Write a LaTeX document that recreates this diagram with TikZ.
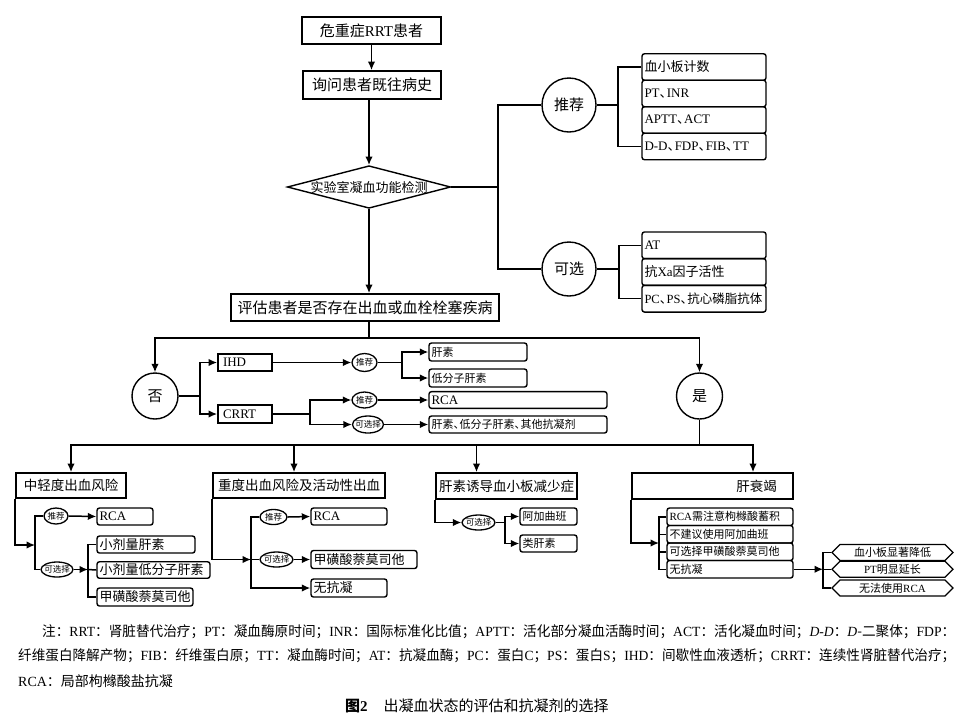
\documentclass[tikz,border=0pt]{standalone}
\usepackage{fontspec}
\usepackage{graphicx}
\newfontfamily\cjk{Noto Sans CJK SC}
\newfontfamily\latn{Liberation Serif}
\usetikzlibrary{arrows.meta,shapes.geometric,shapes.symbols}
\newcommand\dun{\makebox[.55em][l]{、}}
\newcommand\zw[1]{\makebox[0pt]{#1}}
\tikzset{
  f15/.style={font=\cjk\fontsize{15pt}{18pt}\selectfont},
  f135/.style={font=\cjk\fontsize{13.5pt}{16pt}\selectfont},
  f13/.style={font=\cjk\fontsize{13pt}{15pt}\selectfont},
  f11/.style={font=\cjk\fontsize{11pt}{13pt}\selectfont},
  f14/.style={font=\cjk\fontsize{14pt}{16pt}\selectfont},
  f8/.style={font=\cjk\fontsize{8.5pt}{9pt}\selectfont},
  line/.style={line width=1.5pt,draw=black},
  arr/.style={line,-{Latex[length=8.5pt,width=7.5pt]}},
  mb/.style 2 args={draw,line width=1.8pt,inner sep=0pt,align=center,minimum width=#1,minimum height=#2},
  sq/.style 2 args={draw,line width=1.8pt,inner xsep=5pt,inner ysep=0pt,align=left,text width=#1,minimum height=#2},
  lb/.style 2 args={draw,line width=1.4pt,rounded corners=2.5pt,inner xsep=2.5pt,inner ysep=0pt,align=left,text width=#1,minimum height=#2},
  circ/.style={draw,circle,line width=1.4pt,inner sep=0pt},
  sell/.style 2 args={draw,ellipse,line width=1.3pt,inner sep=0pt,minimum width=#1,minimum height=#2,f8},
  hexa/.style={draw,signal,signal to=east and west,line width=1.3pt,inner sep=0pt,minimum width=121,minimum height=16,f11}
}
\begin{document}
\begin{tikzpicture}[x=1pt,y=-1pt,font=\cjk]
\useasboundingbox[fill=white] (0,0) rectangle (960,716);

% ---- top chain
\node[mb={139}{27},f15] (n1) at (371.5,30.5) {危重症{\latn RRT}患者};
\node[mb={138}{28},f15] (n2) at (372,85) {询问患者既往病史};
\node[draw,diamond,aspect=3.84,line width=1.4pt,inner sep=0pt,f13] (dia) at (369,187) {实验室凝血功能检测};

% ---- recommended / optional tests
\node[circ,minimum size=54,f15] (tj) at (569,105) {推荐};
\node[circ,minimum size=54,f15] (kx) at (569,269) {可选};
\node[lb={119}{26.5},f13] (r1) at (704,67) {血小板计数};
\node[lb={119}{26.5},f13] (r2) at (704,93.5) {{\latn PT}\dun{\latn INR}};
\node[lb={119}{26.5},f13] (r3) at (704,120) {{\latn APTT}\dun{\latn ACT}};
\node[lb={119}{26.5},f13] (r4) at (704,146.5) {{\latn D-D}\dun{\latn FDP}\dun{\latn FIB}\dun{\latn TT}};
\node[lb={119}{26.7},f13] (k1) at (704,245.3) {{\latn AT}};
\node[lb={119}{26.7},f13] (k2) at (704,272) {抗{\latn Xa}因子活性};
\node[lb={119}{26.7},font=\cjk\fontsize{12.5pt}{15pt}\selectfont] (k3) at (704,298.7) {{\latn PC}\dun{\latn PS}\dun 抗心磷脂抗体};

% ---- assessment
\node[mb={268}{27},f15] (n3) at (365,307.5) {评估患者是否存在出血或血栓栓塞疾病};
\node[circ,minimum size=46,f15] (fou) at (155,396) {否};
\node[circ,minimum size=46,f15] (shi) at (699.5,396) {是};

% ---- no branch
\node[sq={44}{17},f13] (ihd) at (245,362.5) {{\latn IHD}};
\node[sq={44}{18},f13] (crrt) at (245,414) {{\latn CRRT}};
\node[sell={25}{18}] (tj1) at (364.5,362.5) {\zw{推荐}};
\node[sell={25}{16}] (tj2) at (364.5,400) {\zw{推荐}};
\node[sell={31}{17}] (kx2) at (368,424.5) {\zw{可选择}};
\node[lb={93}{18},f11] (gs1) at (478,352) {肝素};
\node[lb={93}{18},f11] (dfz) at (478,378) {低分子肝素};
\node[lb={173}{16.7},f13] (rca1) at (518,400) {{\latn RCA}};
\node[lb={173}{17},f11] (gsq) at (518,424.5) {肝素\dun 低分子肝素\dun 其他抗凝剂};

% ---- yes branch: four situations
\node[mb={110}{25},f135] (b1) at (71,485.5) {中轻度出血风险};
\node[mb={172}{25},f135] (b2) at (299,485.5) {重度出血风险及活动性出血};
\node[mb={141}{26},f135] (b3) at (506.5,486) {肝素诱导血小板减少症};
\node[mb={161}{26},f135] (b4) at (712.5,486) {\hspace*{88pt}肝衰竭};

% b1 subtree
\node[sell={24}{16}] (tj3) at (56,516) {\zw{推荐}};
\node[sell={32}{15}] (kx3) at (57,569.5) {\zw{可选择}};
\node[lb={51}{17},f13] (rca3) at (125,516.5) {{\latn RCA}};
\node[lb={93}{17},f13] (d1) at (146,544.5) {小剂量肝素};
\node[lb={108}{16.5},f13] (d2) at (153.5,570) {小剂量低分子肝素};
\node[lb={91}{18},f13] (d3) at (145,597) {甲磺酸萘莫司他};

% b2 subtree
\node[sell={27}{15}] (tj4) at (273.5,517) {\zw{推荐}};
\node[sell={33}{15}] (kx4) at (276.5,559.5) {\zw{可选择}};
\node[lb={71}{17},f13] (rca4) at (349,516.5) {{\latn RCA}};
\node[lb={101}{18},f13] (jh4) at (364,559.5) {甲磺酸萘莫司他};
\node[lb={71}{18},f13] (wk4) at (349,588) {无抗凝};

% b3 subtree
\node[sell={33}{15}] (kx5) at (478.5,522.5) {\zw{可选择}};
\node[lb={52}{17},f11] (agb) at (548.5,516.5) {阿加曲班};
\node[lb={52}{17},f11] (lgs) at (548.5,543.5) {类肝素};

% b4 subtree
\node[lb={121}{17.5},f11] (g1) at (730,516.75) {{\latn RCA}需注意枸橼酸蓄积};
\node[lb={121}{17.5},f11] (g2) at (730,534.25) {不建议使用阿加曲班};
\node[lb={121}{17.5},f11] (g3) at (730,551.75) {可选择甲磺酸萘莫司他};
\node[lb={121}{17.5},f11] (g4) at (730,569.25) {无抗凝};
\node[hexa] (h1) at (892.5,552.5) {血小板显著降低};
\node[hexa] (h2) at (892.5,569.25) {{\latn PT}明显延长};
\node[hexa] (h3) at (892.5,588) {无法使用{\latn RCA}};

% ---- connectors: top
\draw[arr] (n1.south) -- (n1.south |- n2.north);
\draw[arr] (dia.north |- n2.south) -- (dia.north);
\coordinate (jr) at (498,187);
\draw[line] (dia.east) -- (jr);
\draw[line] (tj.west) -| (jr) |- (kx.west);
\coordinate (bt) at (618,105);
\draw[line] (tj.east) -- (bt);
\draw[line] (r1.west) -| (bt) |- (r4.west);
\coordinate (bk) at (619,269);
\draw[line] (kx.east) -- (bk);
\draw[line] (k1.west) -| (bk) |- (k3.west);

\draw[arr] (dia.south) -- (dia.south |- n3.north);
\coordinate (j2) at (369,338);
\draw[line] (dia.south |- n3.south) -- (j2);
\draw[arr] (j2) -| (fou.north);
\draw[arr] (j2) -| (shi.north);

% no branch
\coordinate (bf) at (200,396);
\draw[line] (fou.east) -- (bf);
\draw[arr] (bf) |- (ihd.west);
\draw[arr] (bf) |- (crrt.west);
\draw[arr] (ihd.east) -- (tj1.west);
\coordinate (bi) at (402,362.5);
\draw[line] (tj1.east) -- (bi);
\draw[arr] (bi) |- (gs1.west);
\draw[arr] (bi) |- (dfz.west);
\coordinate (bc) at (310,414);
\draw[line] (crrt.east) -- (bc);
\draw[arr] (bc) |- (tj2.west);
\draw[arr] (bc) |- (kx2.west);
\draw[arr] (tj2.east) -- (rca1.west);
\draw[arr] (kx2.east) -- (gsq.west);

% yes branch
\coordinate (jb) at (699.5,445);
\draw[line] (shi.south) -- (jb);
\draw[arr] (jb) -| (b1.north);
\draw[arr] (jb) -| ([xshift=-5pt]b2.north);
\draw[arr] (jb) -| ([xshift=-30pt]b3.north);
\draw[arr] (jb) -| ([xshift=40.5pt]b4.north);

% b1
\coordinate (ba1) at (35,545);
\draw[arr] (b1.south west) |- (ba1);
\draw[line] (tj3.west) -| (ba1) |- (kx3.west);
\draw[arr] (tj3.east) -- (rca3.west);
\coordinate (bk3) at (88,569.5);
\draw[arr] (kx3.east) -- (bk3);
\draw[line] (d1.west) -| (bk3) |- (d3.west);
\draw[line] (bk3) -- (d2.west);

% b2
\coordinate (ba2) at (251,559.5);
\draw[arr] (b2.south west) |- (ba2);
\draw[line] (tj4.west) -| (ba2) -- (kx4.west);
\draw[arr] (ba2) |- (wk4.west);
\draw[arr] (tj4.east) -- (rca4.west);
\draw[arr] (kx4.east) -- (jh4.west);

% b3
\draw[arr] (b3.south west) |- (kx5.west);
\coordinate (bk5) at (505,522.5);
\draw[line] (kx5.east) -- (bk5);
\draw[arr] (bk5) |- (agb.west);
\draw[arr] (bk5) |- (lgs.west);

% b4
\coordinate (ba6) at (659,543);
\draw[arr] (b4.south west) |- (ba6);
\draw[line] (g1.west) -| (ba6) |- (g4.west);
\draw[line] (ba6) |- (g2.west);
\draw[line] (ba6) |- (g3.west);
\coordinate (ba7) at (823,569.25);
\draw[arr] (g4.east) -- (ba7);
\draw[line] (h1.west) -| (ba7) |- (h3.west);
\draw[line] (ba7) -- (h2.west);

% ---- notes and caption
\node[anchor=west,inner sep=0pt,f14] (fn1) at (42,632) {\resizebox{913pt}{\height}{注：{\latn RRT}：肾脏替代治疗；{\latn PT}：凝血酶原时间；{\latn INR}：国际标准化比值；{\latn APTT}：活化部分凝血活酶时间；{\latn ACT}：活化凝血时间；{\latn\itshape D-D}：{\latn\itshape D}-二聚体；{\latn FDP}：}};
\node[anchor=west,inner sep=0pt,f14] (fn2) at (18,656) {\resizebox{937pt}{\height}{纤维蛋白降解产物；{\latn FIB}：纤维蛋白原；{\latn TT}：凝血酶时间；{\latn AT}：抗凝血酶；{\latn PC}：蛋白{\latn C}；{\latn PS}：蛋白{\latn S}；{\latn IHD}：间歇性血液透析；{\latn CRRT}：连续性肾脏替代治疗；}};
\node[anchor=west,inner sep=0pt,f14] (fn3) at (18,681) {{\latn RCA}：局部枸橼酸盐抗凝};
\node[anchor=west,inner sep=0pt,font=\cjk\fontsize{15pt}{17pt}\selectfont] (cap) at (345,706) {{\bfseries 图{\latn 2}}\hspace{16pt}出凝血状态的评估和抗凝剂的选择};
\end{tikzpicture}
\end{document}
